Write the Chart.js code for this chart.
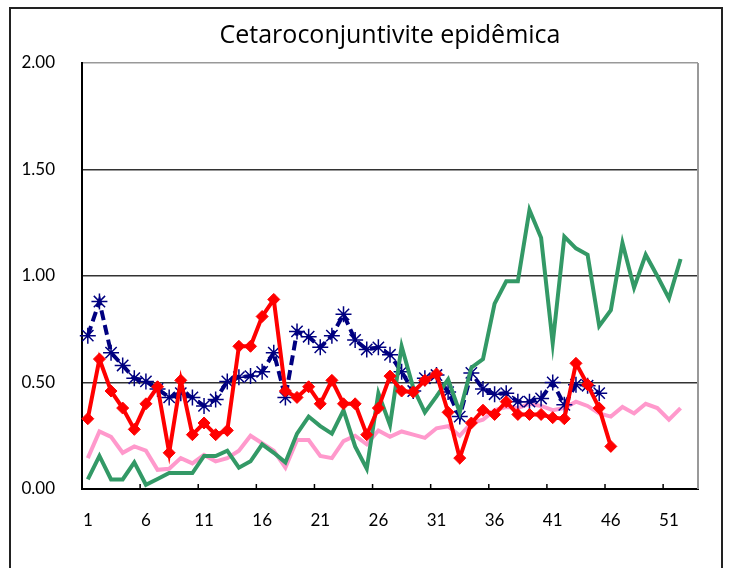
<!DOCTYPE html>
<html>
<head>
<meta charset="utf-8">
<script src="https://cdn.jsdelivr.net/npm/chart.js@4/dist/chart.umd.min.js"></script>
<style>
  html, body { margin: 0; padding: 0; background: #fff; }
  #wrap { width: 732px; height: 568px; position: relative; }
</style>
</head>
<body>
<div id="wrap"><canvas id="chart" width="732" height="568"></canvas></div>
<script>
const ctx = document.getElementById("chart");

const titleText = "Cetaroconjuntivite epidêmica";

// semanas 1..53
const weeks = Array.from({ length: 53 }, (_, i) => String(i + 1));

const redValues = [
  0.33, 0.61, 0.46, 0.38, 0.28, 0.40, 0.48, 0.17, 0.51, 0.255,
  0.31, 0.255, 0.275, 0.67, 0.67, 0.81, 0.89, 0.46, 0.43, 0.48,
  0.40, 0.51, 0.40, 0.40, 0.255, 0.38, 0.53, 0.46, 0.455, 0.51,
  0.54, 0.36, 0.145, 0.31, 0.37, 0.35, 0.41, 0.35, 0.35, 0.35,
  0.335, 0.33, 0.59, 0.49, 0.38, 0.20
];

const blueValues = [
  0.72, 0.88, 0.64, 0.58, 0.52, 0.505, 0.47, 0.43, 0.45, 0.43,
  0.39, 0.42, 0.505, 0.525, 0.53, 0.55, 0.64, 0.43, 0.74, 0.715,
  0.665, 0.72, 0.82, 0.70, 0.655, 0.665, 0.63, 0.55, 0.46, 0.52,
  0.535, 0.455, 0.34, 0.545, 0.47, 0.445, 0.45, 0.41, 0.41, 0.425,
  0.50, 0.395, 0.49, 0.485, 0.45
];

const greenValues = [
  0.045, 0.155, 0.045, 0.045, 0.125, 0.02, 0.047, 0.075, 0.075, 0.075,
  0.155, 0.155, 0.18, 0.10, 0.13, 0.21, 0.17, 0.125, 0.26, 0.34,
  0.295, 0.26, 0.37, 0.20, 0.095, 0.45, 0.30, 0.67, 0.475, 0.36,
  0.435, 0.515, 0.36, 0.57, 0.61, 0.87, 0.975, 0.975, 1.31, 1.18,
  0.685, 1.185, 1.13, 1.10, 0.765, 0.84, 1.155, 0.945, 1.10, 1.00,
  0.895, 1.08
];

const pinkValues = [
  0.145, 0.27, 0.245, 0.17, 0.20, 0.18, 0.09, 0.095, 0.145, 0.12,
  0.16, 0.13, 0.145, 0.18, 0.25, 0.215, 0.18, 0.10, 0.23, 0.23,
  0.155, 0.145, 0.225, 0.25, 0.21, 0.275, 0.245, 0.27, 0.255, 0.24,
  0.285, 0.295, 0.25, 0.31, 0.325, 0.37, 0.385, 0.38, 0.40, 0.39,
  0.37, 0.38, 0.41, 0.39, 0.355, 0.34, 0.385, 0.355, 0.40, 0.38,
  0.325, 0.38
];

const yTicks = [0, 0.5, 1, 1.5, 2];

// moldura, título, borda direita e marcas do eixo x
const decor = {
  id: "decor",
  afterDraw(chart) {
    const c = chart.ctx;
    const a = chart.chartArea;
    const x = chart.scales.x;
    c.save();
    c.strokeStyle = "#999";
    c.lineWidth = 2;
    c.beginPath();
    c.moveTo(a.right, a.top);
    c.lineTo(a.right, a.bottom);
    c.stroke();

    c.strokeStyle = "#000";
    c.lineWidth = 1.5;
    for (let i = 5; i < weeks.length; i += 5) {
      const px = (x.getPixelForTick(i) + x.getPixelForTick(i - 1)) / 2;
      c.beginPath();
      c.moveTo(px, a.bottom);
      c.lineTo(px, a.bottom - 5);
      c.stroke();
    }

    c.strokeStyle = "#222";
    c.lineWidth = 2;
    c.strokeRect(10, 8, 712, 600);

    c.fillStyle = "#000";
    c.font = "25px 'Open Sans'";
    c.textAlign = "center";
    c.textBaseline = "middle";
    c.fillText(titleText, (a.left + a.right) / 2, 36);
    c.restore();
  }
};

new Chart(ctx, {
  type: "line",
  data: {
    labels: weeks,
    datasets: [
      {
        label: "red",
        data: redValues,
        borderColor: "#ff0000",
        backgroundColor: "#ff0000",
        borderWidth: 4,
        pointStyle: "rectRot",
        pointRadius: 6,
        pointBorderWidth: 1,
        order: 1,
      },
      {
        label: "green",
        data: greenValues,
        borderColor: "#339966",
        borderWidth: 4,
        pointRadius: 0,
        order: 2,
      },
      {
        label: "blue",
        data: blueValues,
        borderColor: "#000080",
        backgroundColor: "#000080",
        borderWidth: 4,
        borderDash: [10, 5],
        pointStyle: "star",
        pointRadius: 8,
        pointBorderWidth: 1.5,
        order: 3,
      },
      {
        label: "pink",
        data: pinkValues,
        borderColor: "#ff99cc",
        borderWidth: 4,
        pointRadius: 0,
        order: 4,
      },
    ],
  },
  options: {
    responsive: false,
    animation: false,
    layout: {
      padding: { left: 0, right: 34, top: 63, bottom: 0 }
    },
    elements: {
      line: { tension: 0 }
    },
    scales: {
      x: {
        offset: true,
        grid: { display: false },
        border: { color: "#000", width: 2 },
        ticks: {
          autoSkip: false,
          maxRotation: 0,
          padding: 13,
          color: "#000",
          font: { family: "Lato", size: 17 },
          callback: (v, i) => (i % 5 === 0 ? weeks[i] : ""),
        },
        afterFit: (s) => { s.height = 79; },
      },
      y: {
        min: 0,
        max: 2,
        afterBuildTicks: (s) => { s.ticks = yTicks.map((v) => ({ value: v })); },
        grid: {
          drawTicks: false,
          lineWidth: 1.5,
          color: (c) => (c.tick.value === 2 ? "#999" : c.tick.value === 0 ? "rgba(0,0,0,0)" : "#333"),
        },
        border: { color: "#000", width: 2 },
        ticks: {
          padding: 27,
          color: "#000",
          font: { family: "Lato", size: 17 },
          callback: (v) => v.toFixed(2),
        },
        afterFit: (s) => { s.width = 82; },
      },
    },
    plugins: {
      legend: { display: false },
      title: { display: false },
      tooltip: { enabled: false },
    },
  },
  plugins: [decor],
});
</script>
</body>
</html>
